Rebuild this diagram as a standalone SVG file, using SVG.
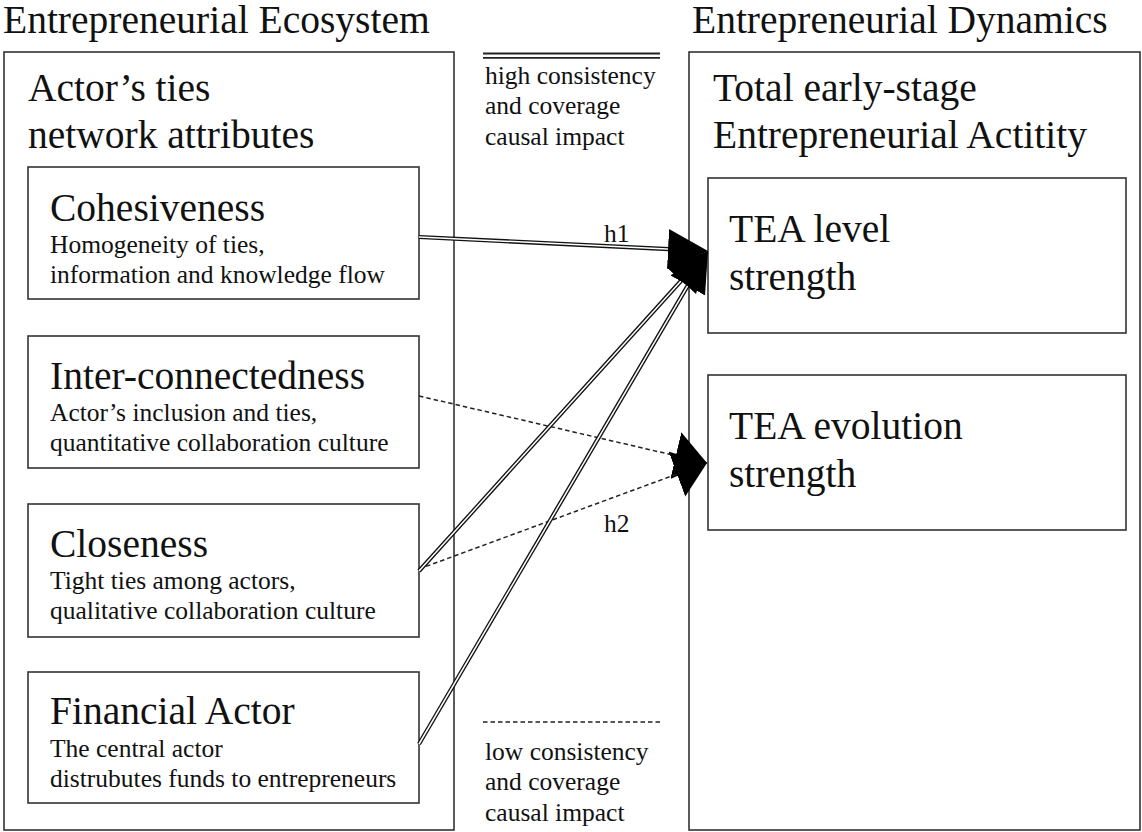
<svg xmlns="http://www.w3.org/2000/svg" width="1142" height="832" viewBox="0 0 1142 832">
<defs>
<style>
text{font-family:"Liberation Serif","Times New Roman",serif;fill:#111}
.big{font-size:39.5px}
.small{font-size:25.5px}
.box{fill:#fff;stroke:#333;stroke-width:1.6}
.outer{fill:none;stroke:#333;stroke-width:1.6}
.dbl-out{fill:none;stroke:#111;stroke-width:4.2}
.dbl-in{fill:none;stroke:#fff;stroke-width:1.5}
.dash{fill:none;stroke:#222;stroke-width:1.5;stroke-dasharray:4.5 3}
.head{fill:none;stroke:none}
</style>
<marker id="ah" markerUnits="userSpaceOnUse" markerWidth="42" markerHeight="42" refX="40" refY="20" orient="auto" viewBox="0 0 42 42">
<path d="M0,0 L40,20 L0,40 Z" fill="#000"/>
</marker>
<marker id="ahd" markerUnits="userSpaceOnUse" markerWidth="34" markerHeight="50" refX="32" refY="24" orient="auto" viewBox="0 0 34 50">
<path d="M0,0 L32,24 L0,48 Z" fill="#000"/>
</marker>
</defs>
<rect width="1142" height="832" fill="#fff"/>

<g id="ecosystem">
<text class="big" x="3" y="33">Entrepreneurial Ecosystem</text>
<rect class="outer" x="4" y="52" width="450" height="778"/>
<text class="big" x="28" y="101">Actor’s ties</text>
<text class="big" x="28" y="148">network attributes</text>
</g>

<g id="dynamics">
<text class="big" x="692" y="33">Entrepreneurial Dynamics</text>
<rect class="outer" x="689" y="52" width="451" height="778"/>
<text class="big" x="713" y="101">Total early-stage</text>
<text class="big" x="713" y="148">Entrepreneurial Actitity</text>
</g>

<g id="legend">
<line x1="483" y1="53.5" x2="660" y2="53.5" stroke="#222" stroke-width="1.8"/>
<line x1="483" y1="57.8" x2="660" y2="57.8" stroke="#222" stroke-width="1.8"/>
<text class="small" x="485" y="84">high consistency</text>
<text class="small" x="485" y="114">and coverage</text>
<text class="small" x="485" y="145">causal impact</text>
<line class="dash" x1="483" y1="722" x2="660" y2="722"/>
<text class="small" x="485" y="760">low consistency</text>
<text class="small" x="485" y="790">and coverage</text>
<text class="small" x="485" y="821">causal impact</text>
</g>

<g id="cohesiveness">
<rect class="box" x="28" y="167" width="391" height="132"/>
<text class="big" x="50" y="221">Cohesiveness</text>
<text class="small" x="50" y="253">Homogeneity of ties,</text>
<text class="small" x="50" y="283">information and knowledge flow</text>
</g>

<g id="interconnectedness">
<rect class="box" x="28" y="336" width="391" height="132"/>
<text class="big" x="50" y="389">Inter-connectedness</text>
<text class="small" x="50" y="421">Actor’s inclusion and ties,</text>
<text class="small" x="50" y="451">quantitative collaboration culture</text>
</g>

<g id="closeness">
<rect class="box" x="28" y="504" width="391" height="133"/>
<text class="big" x="50" y="557">Closeness</text>
<text class="small" x="50" y="589">Tight ties among actors,</text>
<text class="small" x="50" y="619">qualitative collaboration culture</text>
</g>

<g id="financial">
<rect class="box" x="28" y="672" width="391" height="131"/>
<text class="big" x="50" y="724">Financial Actor</text>
<text class="small" x="50" y="757">The central actor</text>
<text class="small" x="50" y="787">distrubutes funds to entrepreneurs</text>
</g>

<g id="tea-level">
<rect class="box" x="708" y="178" width="418" height="155"/>
<text class="big" x="729" y="242">TEA level</text>
<text class="big" x="729" y="290">strength</text>
</g>

<g id="tea-evolution">
<rect class="box" x="708" y="375" width="418" height="155"/>
<text class="big" x="729" y="439">TEA evolution</text>
<text class="big" x="729" y="487">strength</text>
</g>

<g id="connectors">
<line class="dash" x1="419" y1="396" x2="707" y2="463" marker-end="url(#ahd)"/>
<line class="dash" x1="419" y1="569" x2="707" y2="463" marker-end="url(#ahd)"/>
<line class="dbl-out" x1="419" y1="237" x2="700" y2="250.6"/>
<line class="dbl-out" x1="419" y1="571" x2="702.6" y2="257"/>
<line class="dbl-out" x1="419" y1="744" x2="704" y2="257.9"/>
<line class="dbl-in" x1="419" y1="237" x2="672" y2="249.3"/>
<line class="dbl-in" x1="419" y1="571" x2="683.9" y2="277.7"/>
<line class="dbl-in" x1="419" y1="744" x2="689.8" y2="282.1"/>
<line class="head" x1="419" y1="237" x2="708" y2="251" marker-end="url(#ah)"/>
<line class="head" x1="419" y1="571" x2="708" y2="251" marker-end="url(#ah)"/>
<line class="head" x1="419" y1="744" x2="708" y2="251" marker-end="url(#ah)"/>
<text class="small" x="604" y="242">h1</text>
<text class="small" x="604" y="532">h2</text>
</g>
</svg>
